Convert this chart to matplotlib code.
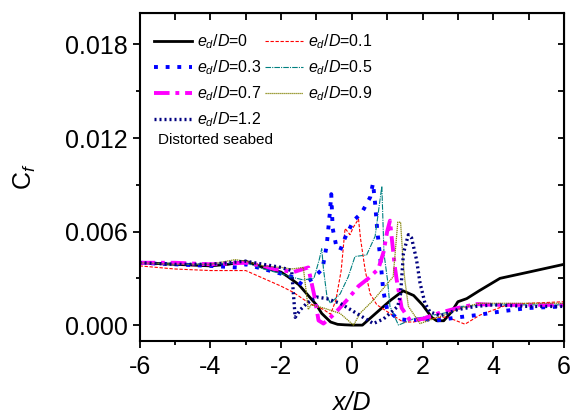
import numpy as np
import matplotlib
matplotlib.use('Agg')
import matplotlib.pyplot as plt
from matplotlib.ticker import MultipleLocator

plt.rcParams['font.family'] = ['Liberation Sans', 'DejaVu Sans']
plt.rcParams['mathtext.fontset'] = 'custom'
plt.rcParams['mathtext.rm'] = 'Liberation Sans'
plt.rcParams['mathtext.it'] = 'Liberation Sans:italic'
plt.rcParams['axes.unicode_minus'] = False

# e_d/D = 0
x0 = [-6, -5, -4, -3.5, -3, -2.5, -2, -1.8, -1.5, -1.27, -1.0, -0.85, -0.6, -0.4, -0.2, 0, 0.3, 0.5,
      0.8, 1.1, 1.45, 1.75, 2.0, 2.26, 2.4, 2.6, 2.82, 3.0, 3.25, 3.6, 4.19, 5.0, 6.0]
y0 = [0.0040, 0.0039, 0.0038, 0.0039, 0.0041, 0.0037, 0.0034, 0.0031, 0.0026, 0.0020, 0.0013, 0.00075,
      0.0002, 0.00005, 0.00002, 0.0, 0.0, 0.0004, 0.0010, 0.0016, 0.0022, 0.0019, 0.0013, 0.0005,
      0.00028, 0.00028, 0.00085, 0.0015, 0.0017, 0.0022, 0.0030, 0.0034, 0.0039]
# e_d/D = 0.1
x1 = [-6, -5, -4, -3.5, -3, -2.5, -2, -1.65, -1.2, -0.8, -0.6, -0.45, -0.3, -0.19, -0.05, 0.05, 0.19,
      0.25, 0.38, 0.52, 0.71, 1.08, 1.45, 1.74, 2.2, 2.68, 3.2, 3.62, 4.37, 5.0, 6.0]
y1 = [0.0038, 0.0036, 0.0035, 0.0035, 0.0035, 0.0030, 0.0025, 0.0021, 0.0014, 0.0010, 0.0007, 0.0016,
      0.0035, 0.0062, 0.0058, 0.0063, 0.0068, 0.0055, 0.0035, 0.0020, 0.0013, 0.00075, 0.0002, 0.0002,
      0.0004, 0.00053, 0.00006, 0.00064, 0.00128, 0.0014, 0.0015]
# e_d/D = 0.3
x3 = [-6, -5, -4, -3.25, -3, -2.5, -2, -1.7, -1.4, -1.1, -0.83, -0.71, -0.62, -0.58, -0.54, -0.45,
      -0.33, -0.19, 0.05, 0.28, 0.52, 0.6, 0.66, 0.72, 0.81, 0.89, 1.0, 1.3, 1.65, 2.0, 2.4, 3.0,
      3.53, 4.28, 5.0, 6.0]
y3 = [0.0040, 0.0039, 0.0038, 0.0037, 0.0039, 0.0036, 0.0033, 0.0031, 0.0026, 0.0030, 0.0036, 0.0051,
      0.0072, 0.0084, 0.0062, 0.0052, 0.0048, 0.0056, 0.0067, 0.0072, 0.0082, 0.0091, 0.0078, 0.0061,
      0.0042, 0.0022, 0.0010, 0.0004, 0.0003, 0.0004, 0.0003, 0.0005, 0.00064, 0.0009, 0.0011, 0.0012]
# e_d/D = 0.5
x5 = [-6, -5, -4, -3, -2.5, -2, -1.74, -1.37, -1.07, -0.92, -0.85, -0.8, -0.7, -0.6, -0.33, -0.1,
      0.09, 0.42, 0.66, 0.85, 0.91, 1.01, 1.08, 1.32, 1.74, 2.2, 2.68, 3.1, 4, 5, 6]
y5 = [0.0040, 0.0039, 0.0039, 0.0040, 0.0036, 0.0033, 0.0031, 0.0029, 0.0030, 0.0042, 0.0049, 0.0036,
      0.0018, 0.0014, 0.0020, 0.0031, 0.0044, 0.0045, 0.0057, 0.0089, 0.0046, 0.0029, 0.0012, 0.0,
      0.0004, 0.0006, 0.0008, 0.0012, 0.0013, 0.0013, 0.0013]
# e_d/D = 0.7
x7 = [-6, -5, -4, -3, -2.5, -2.2, -1.65, -1.23, -1.06, -0.94, -0.8, -0.5, -0.1, 0.19, 0.47, 0.75,
      0.9, 1.0, 1.08, 1.12, 1.22, 1.27, 1.41, 1.65, 2.0, 2.5, 3.0, 3.53, 4.0, 5.0, 6.0]
y7 = [0.0040, 0.0040, 0.0039, 0.0040, 0.0038, 0.0036, 0.0034, 0.0037, 0.0019, 0.0003, 0.0001, 0.0007,
      0.0017, 0.0025, 0.0030, 0.0036, 0.0047, 0.0060, 0.0067, 0.0058, 0.0037, 0.0029, 0.0011, 0.0003,
      0.0004, 0.0008, 0.0011, 0.00135, 0.0013, 0.0013, 0.0013]
# e_d/D = 0.9
x9 = [-6, -5, -4, -3.3, -3, -2.5, -2, -1.7, -1.37, -1.23, -1.15, -0.8, -0.33, 0.05, 0.23, 0.61, 1.17,
      1.3, 1.38, 1.45, 1.5, 1.6, 1.93, 2.3, 2.68, 3.1, 3.6, 4.5, 6.0]
y9 = [0.0040, 0.0039, 0.0039, 0.0042, 0.0041, 0.0038, 0.0037, 0.0036, 0.0037, 0.0010, 0.0013, 0.0011,
      0.00075, 0.0, 0.00075, 0.0016, 0.0031, 0.0066, 0.0066, 0.0041, 0.0029, 0.0012, 0.0001, 0.0004,
      0.0007, 0.0011, 0.0014, 0.0014, 0.0014]
# e_d/D = 1.2
x12 = [-6, -5, -4, -3, -2.5, -2, -1.7, -1.6, -1.45, -1.27, -0.99, -0.71, -0.33, 0.14, 0.61, 0.9, 1.1,
       1.3, 1.38, 1.46, 1.6, 1.69, 1.83, 1.93, 2.07, 2.21, 2.5, 3.0, 3.5, 4.0, 5.0, 6.0]
y12 = [0.0040, 0.0039, 0.0039, 0.0041, 0.0039, 0.0037, 0.0035, 0.0005, 0.0010, 0.0014, 0.0018, 0.0017,
       0.0014, 0.00075, 0.0001, 0.0004, 0.0008, 0.0012, 0.0020, 0.0046, 0.0058, 0.0056, 0.0042, 0.0027,
       0.0014, 0.00085, 0.0006, 0.0010, 0.0012, 0.0013, 0.0012, 0.0012]

labels = ['0', '0.1', '0.3', '0.5', '0.7', '0.9', '1.2']

fig = plt.figure(figsize=(5.72, 4.15), dpi=100)
ax = fig.add_axes([0.244, 0.179, 0.742, 0.789])

lab = lambda s: r'$e_d/D$=' + s
h0, = ax.plot(x0, y0, color='black', lw=2.0, ls='-', label=lab(labels[0]))
h1, = ax.plot(x1, y1, color='red', lw=0.8, ls=(0, (3, 1.5)), label=lab(labels[1]))
h3, = ax.plot(x3, y3, color='blue', lw=2.8, ls=(0, (1, 2)), label=lab(labels[2]))
h5, = ax.plot(x5, y5, color='teal', lw=0.8, ls=(0, (5, 1, 1, 1)), label=lab(labels[3]))
h7, = ax.plot(x7, y7, color='magenta', lw=2.8, ls=(0, (4, 1.5, 1, 1.5)), label=lab(labels[4]))
h9, = ax.plot(x9, y9, color='olive', lw=0.9, ls=(0, (1, 0.6)), label=lab(labels[5]))
h12, = ax.plot(x12, y12, color='navy', lw=2.4, ls=(0, (0.6, 0.9)), label=lab(labels[6]))

ax.set_xlim(-6, 6)
ax.set_ylim(-0.001, 0.020)
ax.xaxis.set_major_locator(MultipleLocator(2))
ax.xaxis.set_minor_locator(MultipleLocator(1))
ax.yaxis.set_minor_locator(MultipleLocator(0.003))
ax.set_yticks([0, 0.006, 0.012, 0.018])
ax.set_yticklabels(['0.000', '0.006', '0.012', '0.018'])
ax.tick_params(which='major', direction='out', length=5, width=1.3, labelsize=18)
ax.tick_params(which='minor', direction='out', length=3, width=1.3)
ax.tick_params(axis='x', which='major', pad=5)
for s in ax.spines.values():
    s.set_linewidth(1.5)

top = ax.secondary_xaxis('top')
top.xaxis.set_major_locator(MultipleLocator(1))
top.tick_params(direction='in', length=5, width=1.3, labeltop=False)
right = ax.secondary_yaxis('right')
right.yaxis.set_major_locator(MultipleLocator(0.003))
right.tick_params(direction='in', length=4, width=1.3, labelright=False)

ax.set_xlabel('x/D', fontsize=18, style='italic', labelpad=9)
ax.set_ylabel(r'C$_f$', fontsize=18, labelpad=19)

handles = [h0, h3, h7, h12, h1, h5, h9]
ax.legend(handles=handles, ncol=2, loc='upper left', bbox_to_anchor=(0.0, 0.985), frameon=False,
          fontsize=11.5, handlelength=2.4, columnspacing=0.2, handletextpad=0.3, labelspacing=0.45)
ax.text(0.044, 0.613, 'Distorted seabed', transform=ax.transAxes, fontsize=11, va='center')

fig.savefig('out.png', dpi=100)
